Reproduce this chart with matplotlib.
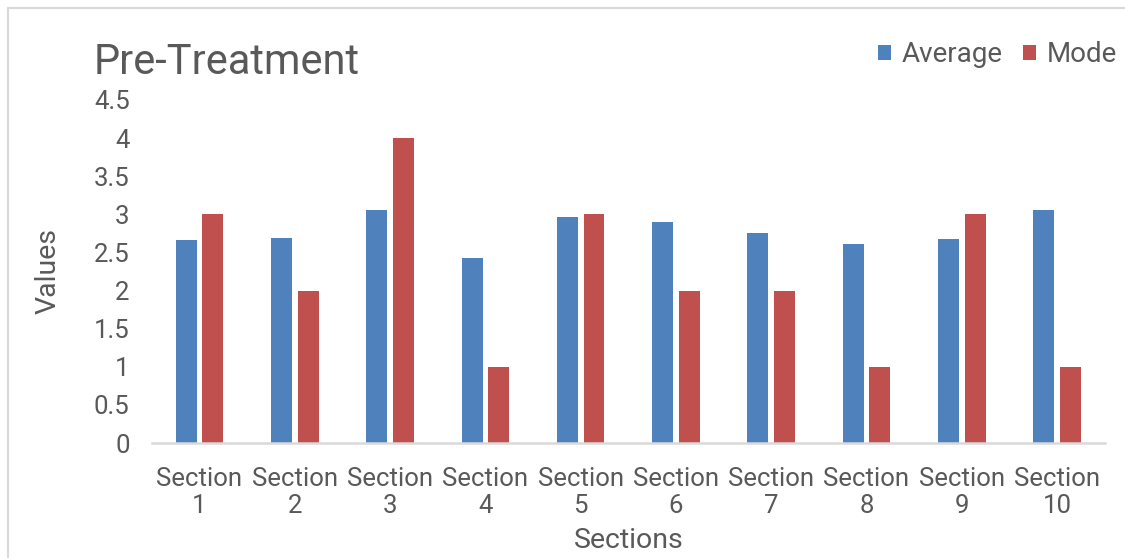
import numpy as np
import matplotlib
matplotlib.use('Agg')
from matplotlib import pyplot as plt
from matplotlib.patches import Rectangle

plt.rcParams['font.family'] = ['Roboto', 'DejaVu Sans']

# data
sections = ['Section\n1', 'Section\n2', 'Section\n3', 'Section\n4', 'Section\n5',
            'Section\n6', 'Section\n7', 'Section\n8', 'Section\n9', 'Section\n10']
average = [2.66, 2.69, 3.06, 2.43, 2.96, 2.90, 2.76, 2.61, 2.67, 3.06]
mode = [3, 2, 4, 1, 3, 2, 2, 1, 3, 1]
yticks = [0, 0.5, 1, 1.5, 2, 2.5, 3, 3.5, 4, 4.5]

blue = '#4F81BD'
red = '#C0504D'
grey_text = '#595959'

fig = plt.figure(figsize=(11.25, 5.58), dpi=100)
ax = fig.add_axes([0.135, 0.206, 0.847, 0.615])

x = np.arange(len(sections))
w = 0.22
gap = 0.06
ax.bar(x - (w + gap) / 2, average, width=w, color=blue, label='Average')
ax.bar(x + (w + gap) / 2, mode, width=w, color=red, label='Mode')

ax.set_xlim(-0.5, len(sections) - 0.5)
ax.set_ylim(0, 4.5)
ax.set_yticks(yticks)
ax.set_yticklabels(['0', '0.5', '1', '1.5', '2', '2.5', '3', '3.5', '4', '4.5'])
ax.set_xticks(x)
ax.set_xticklabels(sections, linespacing=1.15)
ax.tick_params(axis='both', length=0, labelsize=18.5, colors=grey_text)
ax.tick_params(axis='x', pad=17)
ax.tick_params(axis='y', pad=16)

for side in ['top', 'right', 'left']:
    ax.spines[side].set_visible(False)
ax.spines['bottom'].set_color('#d9d9d9')
ax.spines['bottom'].set_linewidth(1.8)

ax.set_xlabel('Sections', fontsize=20.5, color=grey_text, labelpad=7)
ax.set_ylabel('Values', fontsize=20.5, color=grey_text, labelpad=23)

fig.text(0.083, 0.888, 'Pre-Treatment', fontsize=30, color=grey_text, va='center', ha='left')

ax.legend(loc='upper right', bbox_to_anchor=(1.03, 1.22), ncol=2, frameon=False,
          fontsize=20, labelcolor=grey_text, handlelength=0.45, handleheight=0.45,
          handletextpad=0.38, columnspacing=0.75, borderaxespad=0.2)

# light chart frame
fig.patches.append(Rectangle((8 / 1125, -0.01), 1.02, 1 - 8 / 558 + 0.01,
                             transform=fig.transFigure, fill=False,
                             edgecolor='#d9d9d9', linewidth=1.5))

fig.savefig('out.png', dpi=100)
